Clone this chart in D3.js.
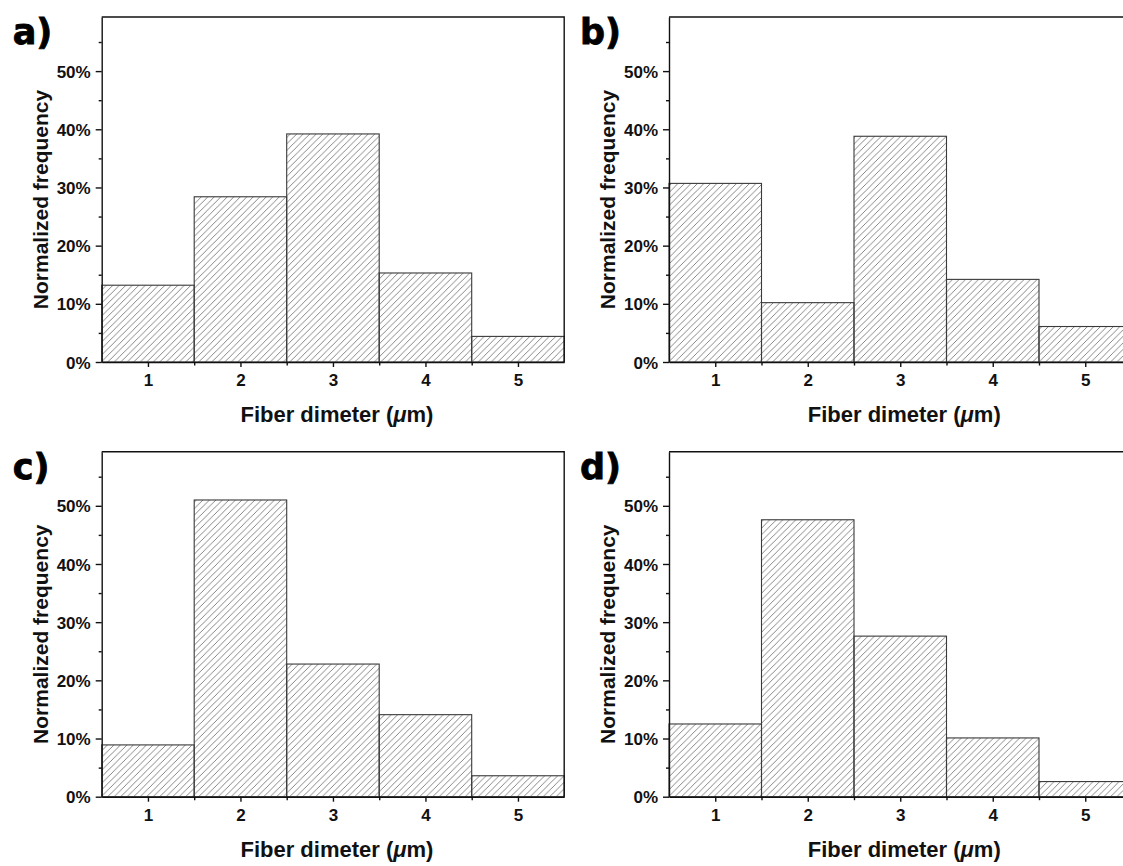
<!DOCTYPE html>
<html>
<head>
<meta charset="utf-8">
<script src="https://cdn.jsdelivr.net/npm/d3@7"></script>
<style>
  body { margin: 0; background: #fff; }
  svg { display: block; font-family: "Liberation Sans", Arial, sans-serif; }
  .axis text { font-size: 17px; font-weight: bold; fill: #111; }
  .axis path, .axis line { stroke: #111; stroke-width: 1.4; }
  .label { font-size: 21px; font-weight: bold; fill: #111; }
  .xlabel { font-size: 22px; }
  .panel-tag { font-family: "DejaVu Sans", sans-serif; font-size: 35px; font-weight: bold; fill: #000; stroke: #000; stroke-width: 0.8; }
</style>
</head>
<body>
<svg id="chart"></svg>
<script>
// fiber diameter bins (um) and normalized frequency (%) for each sample
const diameters = [1, 2, 3, 4, 5];
const freqA = [13.2, 28.4, 39.2, 15.3, 4.4];
const freqB = [30.7, 10.2, 38.8, 14.2, 6.1];
const freqC = [8.9, 51.0, 22.8, 14.1, 3.6];
const freqD = [12.5, 47.6, 27.6, 10.1, 2.6];
const panelTags = ["a)", "b)", "c)", "d)"];
const yMajorTicks = [0, 10, 20, 30, 40, 50];
const yMinorTicks = [5, 15, 25, 35, 45, 55];
const xMinorTicks = [1.5, 2.5, 3.5, 4.5];

const width = 1123, height = 866;
const plotW = 462.5, plotH = 345;

const svg = d3.select("#chart")
  .attr("width", width)
  .attr("height", height);

// diagonal hatch used to fill the bars
const pat = svg.append("defs").append("pattern")
  .attr("id", "hatch")
  .attr("patternUnits", "userSpaceOnUse")
  .attr("width", 6.5)
  .attr("height", 6.5);
pat.append("path")
  .attr("d", "M-1,1 l2,-2 M0,6.5 l6.5,-6.5 M5.5,7.5 l2,-2")
  .attr("stroke", "#7a7a7a")
  .attr("stroke-width", 0.9);

const panels = [
  {tag: panelTags[0], data: freqA, left: 101.7, top: 17},
  {tag: panelTags[1], data: freqB, left: 669, top: 17},
  {tag: panelTags[2], data: freqC, left: 101.7, top: 451.7},
  {tag: panelTags[3], data: freqD, left: 669, top: 451.7},
];

const x = d3.scaleLinear().domain([0.5, 5.5]).range([0, plotW]);
const y = d3.scaleLinear().domain([0, 59.3]).range([plotH, 0]);

panels.forEach(p => draw_panel(p));

function draw_panel({tag, data, left, top}) {
  const g = svg.append("g")
    .attr("transform", `translate(${left},${top})`);

  // bars
  g.selectAll("rect.bar")
    .data(data)
    .join("rect")
    .classed("bar", true)
    .attr("x", (_, i) => x(diameters[i] - 0.5))
    .attr("width", (_, i) => x(diameters[i] + 0.5) - x(diameters[i] - 0.5))
    .attr("y", d => y(d))
    .attr("height", d => plotH - y(d))
    .attr("fill", "url(#hatch)")
    .attr("stroke", "#3a3a3a")
    .attr("stroke-width", 1.1);

  // y axis, major + minor
  const yaxis = g.append("g")
    .classed("axis", true)
    .call(d3.axisLeft(y)
      .tickValues(yMajorTicks)
      .tickSizeInner(6)
      .tickSizeOuter(0)
      .tickPadding(5)
      .tickFormat(d => d + "%"));
  yaxis.selectAll("text").attr("dy", "0.36em");

  const yminor = g.append("g")
    .classed("axis", true)
    .call(d3.axisLeft(y).tickValues(yMinorTicks).tickSize(3).tickFormat(""));
  yminor.select(".domain").remove();

  // x axis, major + minor
  const xaxis = g.append("g")
    .classed("axis", true)
    .attr("transform", `translate(0,${plotH})`)
    .call(d3.axisBottom(x)
      .tickValues(diameters)
      .tickSizeInner(5)
      .tickSizeOuter(0)
      .tickFormat(d3.format("d")));
  xaxis.selectAll("text").attr("y", 24).attr("dy", 0);

  const xminor = g.append("g")
    .classed("axis", true)
    .attr("transform", `translate(0,${plotH})`)
    .call(d3.axisBottom(x).tickValues(xMinorTicks).tickSize(3.5).tickFormat(""));
  xminor.select(".domain").remove();

  // closing frame (top and right)
  g.append("path")
    .attr("d", `M0,0 H${plotW} V${plotH}`)
    .attr("fill", "none")
    .attr("stroke", "#111")
    .attr("stroke-width", 1.4);

  // axis labels
  g.append("text")
    .classed("label", true)
    .attr("transform", `translate(${-54},${plotH / 2 + 10}) rotate(-90)`)
    .attr("text-anchor", "middle")
    .text("Normalized frequency");

  const xl = g.append("text")
    .classed("label xlabel", true)
    .attr("x", plotW / 2 + 4)
    .attr("y", plotH + 60)
    .attr("text-anchor", "middle");
  xl.append("tspan").text("Fiber dimeter (");
  xl.append("tspan").attr("font-style", "italic").text("\u03bc");
  xl.append("tspan").text("m)");

  // panel tag
  svg.append("text")
    .classed("panel-tag", true)
    .attr("x", left - 89)
    .attr("y", top + 27)
    .text(tag);
}
</script>
</body>
</html>
